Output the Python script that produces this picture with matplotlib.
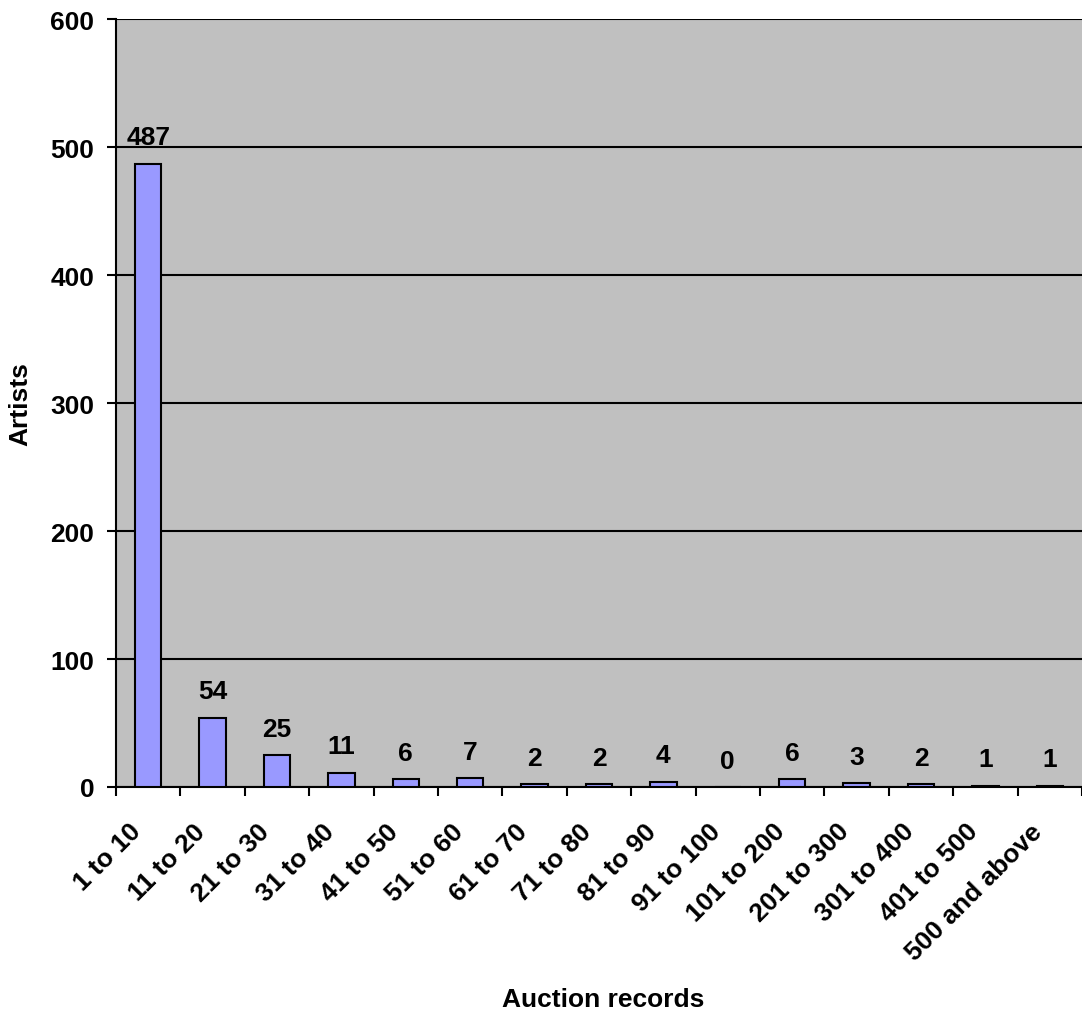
import matplotlib
matplotlib.use("Agg")
import matplotlib.pyplot as plt
import matplotlib.transforms as mtransforms
import numpy as np

categories = ["1 to 10", "11 to 20", "21 to 30", "31 to 40", "41 to 50", "51 to 60",
              "61 to 70", "71 to 80", "81 to 90", "91 to 100", "101 to 200",
              "201 to 300", "301 to 400", "401 to 500", "500 and above"]
artists = [487, 54, 25, 11, 6, 7, 2, 2, 4, 0, 6, 3, 2, 1, 1]

plt.rcParams['font.family'] = ['Liberation Sans', 'DejaVu Sans']
plt.rcParams['font.weight'] = 'bold'
FS = 19

fig = plt.figure(figsize=(10.82, 10.12), dpi=100)
ax = fig.add_axes([116/1082, 224/1012, (1082-116)/1082, (788-20)/1012])
ax.set_facecolor('#C0C0C0')

x = np.arange(len(categories))
ax.bar(x, artists, width=0.41, color='#9999FF', edgecolor='black', linewidth=1.5, zorder=3)
for xi, v in zip(x, artists):
    ax.annotate(str(v), (xi, v), xytext=(0, 14), textcoords='offset points',
                ha='center', va='baseline', fontsize=FS, fontweight='bold')

ax.set_xlim(-0.5, len(categories) - 0.5)
ax.set_ylim(0, 600)
ax.set_yticks(range(0, 601, 100))
ax.yaxis.grid(True, color='black', linewidth=1.5, zorder=1)
ax.set_axisbelow(True)
ax.tick_params(axis='y', labelsize=FS, length=6.5, width=1.5, direction='out', pad=9)

ax.set_xticks(np.arange(-0.5, len(categories), 1), minor=False)
ax.set_xticklabels([])
ax.set_xticks(x, minor=True)
ax.set_xticklabels(categories, minor=True, rotation=45, ha='right', va='center',
                   rotation_mode='anchor', fontsize=FS, fontweight='bold')
ax.tick_params(axis='x', which='major', length=6.5, width=1.5, direction='out')
ax.tick_params(axis='x', which='minor', length=0, pad=29)
shift = mtransforms.ScaledTranslation(-11/100, 0, fig.dpi_scale_trans)
for lab in ax.get_xticklabels(minor=True):
    lab.set_transform(lab.get_transform() + shift)

for s in ['top', 'right']:
    ax.spines[s].set_visible(False)
ax.spines['left'].set_linewidth(1.5)
ax.spines['bottom'].set_linewidth(1.5)

ax.set_ylabel('Artists', fontsize=FS, fontweight='bold')
ax.yaxis.set_label_coords((32-116)/966, 0.5)
fig.text(603/1082, 1 - 1000/1012, 'Auction records', ha='center', va='center',
         fontsize=FS, fontweight='bold')

fig.savefig('out.png', dpi=100)
